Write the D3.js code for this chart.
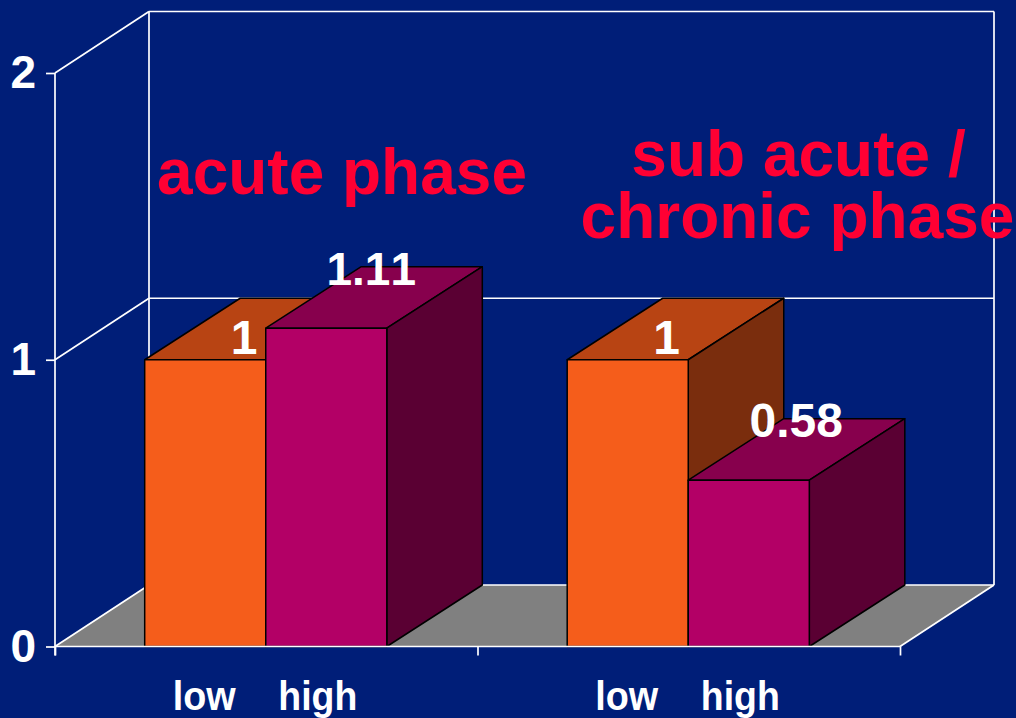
<!DOCTYPE html>
<html><head><meta charset="utf-8">
<script src="https://cdnjs.cloudflare.com/ajax/libs/d3/7.8.5/d3.min.js"></script>
<style>html,body{margin:0;padding:0;background:#001e78;overflow:hidden}svg{display:block}
text{font-family:"Liberation Sans",Arial,sans-serif;font-weight:bold;font-kerning:none}</style></head><body>
<svg id="c" width="1016" height="718"></svg>
<script>
const groups = ["acute phase", "sub acute / chronic phase"];
const levels = ["low", "high"];
const lowValues = [1, 1];
const highValues = [1.11, 0.58];
const valueLabels = [["1", "1.11"], ["1", "0.58"]];
const yTicks = [0, 1, 2];

const W = 1016, H = 718, dx = 94, dy = -61.5, barDx = 95.5;
const svg = d3.select("#c").attr("viewBox", `0 0 ${W} ${H}`);
svg.append("rect").attr("width", W).attr("height", H).attr("fill", "#001e78");
const y = d3.scaleLinear().domain([0, 2]).range([646.5, 73]);
const x0 = d3.scaleBand().domain(groups).range([55, 900]);
const x1 = d3.scaleBand().domain(levels).range([-0.5, x0.bandwidth() - 0.5]).paddingInner(0).paddingOuter(0.745);
const fills = {low: {front: "#f55d1b", top: "#b84413", side: "#7a2d0d"},
               high: {front: "#b30066", top: "#87004d", side: "#5a0033"}};
const white = "#fff";

// floor and walls
const xL = x0.range()[0], xR = x0.range()[1], y0 = y(0), yT = y(2);
svg.append("polygon").attr("fill", "#808080")
  .attr("points", [[xL, y0], [xL + dx, y0 + dy], [xR + dx, y0 + dy], [xR, y0]].join(" "));
const wall = (a, b, c, d) => svg.append("line").attr("x1", a).attr("y1", b).attr("x2", c).attr("y2", d)
  .attr("stroke", white).attr("stroke-width", 1.7);
yTicks.forEach(t => {
  if (t > 0) {
    wall(xL, y(t), xL + dx, y(t) + dy);
  }
  wall(xL + dx, y(t) + dy, xR + dx, y(t) + dy);
});
wall(xL + dx, yT + dy, xL + dx, y0 + dy);
wall(xR + dx, yT + dy, xR + dx, y0 + dy);
wall(xR, y0, xR + dx, y0 + dy);
wall(xL, y0, xL + dx, y0 + dy);

// bars
const bars = groups.flatMap((g, i) => [
  {g, k: "low", v: lowValues[i], label: valueLabels[i][0]},
  {g, k: "high", v: highValues[i], label: valueLabels[i][1]}]);
const bw = x1.bandwidth();
const gBar = svg.selectAll("g.bar").data(bars).join("g").attr("class", "bar")
  .attr("stroke", "#000").attr("stroke-width", 1.5).attr("stroke-linejoin", "round");
gBar.append("polygon").attr("fill", d => fills[d.k].top).attr("points", d => {
  const a = x0(d.g) + x1(d.k), t = y(d.v);
  return [[a, t], [a + barDx, t + dy], [a + bw + barDx, t + dy], [a + bw, t]].join(" ");
});
gBar.append("polygon").attr("fill", d => fills[d.k].side).attr("points", d => {
  const a = x0(d.g) + x1(d.k) + bw, t = y(d.v);
  return [[a, t], [a + barDx, t + dy], [a + barDx, y0 + dy], [a, y0]].join(" ");
});
gBar.append("rect").attr("fill", d => fills[d.k].front)
  .attr("x", d => x0(d.g) + x1(d.k)).attr("y", d => y(d.v)).attr("width", bw).attr("height", d => y0 - y(d.v));

// axes
const axisY = svg.append("g").attr("transform", `translate(${xL},0)`)
  .call(d3.axisLeft(y).tickValues(yTicks).tickFormat(d3.format("d")).tickSize(9).tickPadding(10));
axisY.select(".domain").attr("stroke", white).attr("stroke-width", 1.7).attr("d", `M0,${yT}V${y0 + 9}`);
axisY.selectAll(".tick line").attr("stroke", white).attr("stroke-width", 1.7);
axisY.selectAll("text").attr("fill", white).style("font-size", "46px").style("font-family", '"Liberation Sans"').style("font-weight", "bold");

const axisX = svg.append("g").attr("transform", `translate(0,${y0})`)
  .call(d3.axisBottom(d3.scalePoint().domain(d3.range(3)).range([xL, xR])).tickFormat("").tickSize(9).tickSizeOuter(0));
axisX.select(".domain").attr("stroke", white).attr("stroke-width", 1.7).attr("d", `M${xL},0H${xR}`);
axisX.selectAll(".tick line").attr("stroke", white).attr("stroke-width", 1.7);

// category labels
svg.selectAll("text.cat").data(bars).join("text").attr("class", "cat")
  .attr("x", d => x0(d.g) + x1(d.k) + bw / 2 + (d.k === "low" ? -1 : -8.5))
  .attr("y", 710).attr("text-anchor", "middle").attr("fill", white)
  .style("font-size", "41px").attr("textLength", d => d.k === "low" ? 63 : 79).attr("lengthAdjust", "spacingAndGlyphs")
  .text(d => d.k);

// value labels
svg.selectAll("text.val").data(bars).join("text").attr("class", "val")
  .attr("x", d => x0(d.g) + x1(d.k) + bw / 2 + (d.k === "low" ? 39 : (d.v > 1 ? 45 : 47.5)))
  .attr("y", d => y(d.v) + (d.k === "low" ? -6 : -43)).attr("text-anchor", "middle").attr("fill", white)
  .style("font-size", d => d.v > 1 ? "46px" : "48px").text(d => d.label);

// phase titles
const red = "#ff0033";
svg.append("text").attr("x", 342).attr("y", 194).attr("text-anchor", "middle").attr("fill", red)
  .style("font-size", "64px").text(groups[0]);
svg.append("text").attr("x", 798.5).attr("y", 176).attr("text-anchor", "middle").attr("fill", red)
  .style("font-size", "64px").text("sub acute /");
svg.append("text").attr("x", 797.5).attr("y", 238).attr("text-anchor", "middle").attr("fill", red)
  .style("font-size", "64px").text("chronic phase");
</script></body></html>
